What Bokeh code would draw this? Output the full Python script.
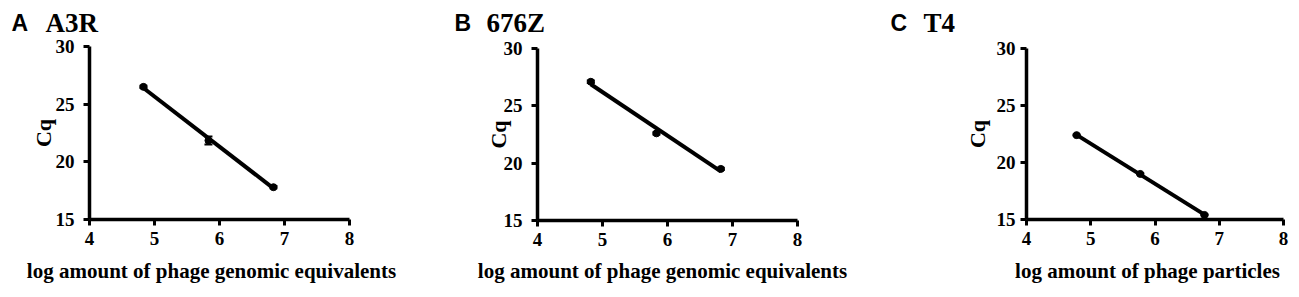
import numpy as np
from bokeh.plotting import figure
from bokeh.layouts import row
from bokeh.models import Range1d, Label, FixedTicker, Whisker, ColumnDataSource, TeeHead
from bokeh.embed import file_html
from bokeh.resources import INLINE

# ---- data ----
panel_letters = ["A", "B", "C"]
panel_names = ["A3R", "676Z", "T4"]
x_labels = ["log amount of phage genomic equivalents",
            "log amount of phage genomic equivalents",
            "log amount of phage particles"]
y_label = "Cq"
x_ticks = [4, 5, 6, 7, 8]
y_ticks = [15, 20, 25, 30]
X_MIN, X_MAX = 4, 8
Y_MIN, Y_MAX = 15, 30

x_a3r = [4.83, 5.83, 6.83]
cq_a3r = [26.5, 21.85, 17.8]
err_a3r = [0.1, 0.35, 0.1]

x_676z = [4.82, 5.83, 6.82]
cq_676z = [27.1, 22.6, 19.5]
err_676z = [0.1, 0.1, 0.1]

x_t4 = [4.78, 5.77, 6.77]
cq_t4 = [22.4, 19.0, 15.4]
err_t4 = [0.05, 0.05, 0.05]

xs = [x_a3r, x_676z, x_t4]
ys = [cq_a3r, cq_676z, cq_t4]
errs = [err_a3r, err_676z, err_t4]

SERIF = "Liberation Serif"
SANS = "Liberation Sans"

# ---- layout (pixels, within each figure) ----
widths = [438, 438, 415]
H = 289
# axis pixel positions: x of value X_MIN, x of X_MAX, y of Y_MAX, y of Y_MIN
axis_px = [
    (89, 349, 46, 219),
    (99, 359, 48, 220),
    (150, 407, 48, 219),
]
EDGE = 3
title_px = [(11, 45), (16, 48), (14, 47)]  # x of letter, x of name
TITLE_BASE = 22
xlabel_center_px = [211, 224, 271]
XLABEL_BASE = 270
tick_standoff = [9, 9, 5]
cq_standoff = [-3, -10, 4]

figs = []
for i in range(3):
    ax0, ax1, ay1, ay0 = axis_px[i]
    W = widths[i]
    sx = (ax1 - ax0) / (X_MAX - X_MIN)
    sy = (ay0 - ay1) / (Y_MAX - Y_MIN)
    xr = Range1d(X_MIN - (ax0 - EDGE) / sx, X_MAX + (W - EDGE - ax1) / sx)
    yr = Range1d(Y_MIN - (H - EDGE - ay0) / sy, Y_MAX + (ay1 - EDGE) / sy)
    p = figure(width=W, height=H, output_backend="svg", toolbar_location=None,
               x_range=xr, y_range=yr,
               min_border_left=EDGE, min_border_right=EDGE,
               min_border_top=EDGE, min_border_bottom=EDGE)
    p.outline_line_color = None
    p.grid.visible = False
    p.background_fill_color = "white"
    p.border_fill_color = "white"

    for ax in (p.xaxis[0], p.yaxis[0]):
        ax.axis_line_width = 3.5
        ax.axis_line_color = "black"
        ax.major_tick_line_width = 3
        ax.major_tick_out = 6
        ax.major_tick_in = 0
        ax.minor_tick_line_color = None
        ax.major_label_text_font = SERIF
        ax.major_label_text_font_style = "bold"
        ax.major_label_text_font_size = "19px"
        ax.major_label_text_color = "black"
        ax.axis_label_text_font = SERIF
        ax.axis_label_text_font_style = "bold"
        ax.axis_label_text_color = "black"
    p.xaxis.ticker = FixedTicker(ticks=x_ticks)
    p.yaxis.ticker = FixedTicker(ticks=y_ticks)
    p.xaxis.bounds = (X_MIN, X_MAX)
    p.yaxis.bounds = (Y_MIN, Y_MAX)
    p.yaxis.fixed_location = X_MIN
    p.xaxis.fixed_location = Y_MIN
    p.xaxis.major_label_standoff = 6
    p.yaxis.axis_label = y_label
    p.yaxis.axis_label_text_font_size = "22px"
    p.yaxis.axis_label_standoff = cq_standoff[i]
    p.yaxis.major_label_standoff = tick_standoff[i]

    x = np.array(xs[i])
    y = np.array(ys[i])
    e = np.array(errs[i])
    k, c = np.polyfit(x, y, 1)
    lx = np.array([x.min(), x.max()])
    p.line(lx, k * lx + c, line_width=4, line_color="black")
    src = ColumnDataSource(dict(x=x, y=y, lo=y - e, hi=y + e))
    p.scatter("x", "y", source=src, size=7, fill_color="black", line_color="black")
    w = Whisker(base="x", lower="lo", upper="hi", source=src, line_width=2, line_color="black",
                upper_head=TeeHead(size=8, line_width=2), lower_head=TeeHead(size=8, line_width=2))
    p.add_layout(w)

    # x-axis title
    p.add_layout(Label(x=X_MIN + (xlabel_center_px[i] - ax0) / sx,
                       y=Y_MIN - (XLABEL_BASE - ay0) / sy, text=x_labels[i],
                       text_font=SERIF, text_font_style="bold", text_font_size="21px",
                       text_color="black", text_align="center", text_baseline="alphabetic"))

    # panel titles
    lpx, npx = title_px[i]
    ty = Y_MAX + (ay1 - TITLE_BASE) / sy
    p.add_layout(Label(x=X_MIN + (lpx - ax0) / sx, y=ty, text=panel_letters[i],
                       text_font=SANS, text_font_style="bold", text_font_size="23px",
                       text_color="black", text_baseline="alphabetic"))
    p.add_layout(Label(x=X_MIN + (npx - ax0) / sx, y=ty, text=panel_names[i],
                       text_font=SERIF, text_font_style="bold", text_font_size="27px",
                       text_color="black", text_baseline="alphabetic"))
    figs.append(p)

layout = row(*figs, spacing=0)
open("out.html", "w").write(file_html(layout, INLINE))
